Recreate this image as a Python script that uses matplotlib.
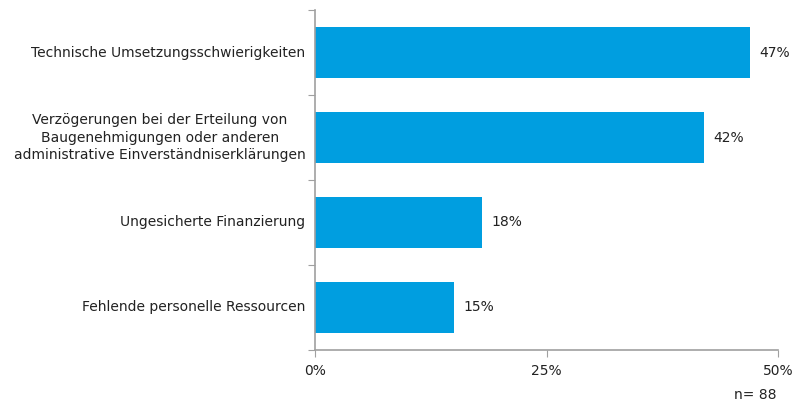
import matplotlib.pyplot as plt

# Hindernisse bei der Umsetzung (Anteil der Nennungen in %)
categories = [
    "Technische Umsetzungsschwierigkeiten",
    "Verzögerungen bei der Erteilung von\nBaugenehmigungen oder anderen\nadministrative Einverständniserklärungen",
    "Ungesicherte Finanzierung",
    "Fehlende personelle Ressourcen",
]
values = [47, 42, 18, 15]
xticks = [0, 25, 50]
n_label = "n= 88"

bar_color = "#009ee0"
axis_color = "#a0a0a0"
text_color = "#222222"
fs = 10

plt.rcParams["font.family"] = ["DejaVu Sans"]

fig = plt.figure(figsize=(7.95, 4.05), dpi=100)
ax = fig.add_axes([0.396, 0.136, 0.583, 0.839])

pos = list(range(len(categories)))
ax.barh(pos, values, height=0.6, color=bar_color)
ax.set_ylim(len(categories) - 0.5, -0.5)
ax.set_xlim(0, 50)

for p, v in zip(pos, values):
    ax.text(v + 1.0, p, f"{v}%", va="center", ha="left", fontsize=fs, color=text_color)

# y-Achse: Striche an den Kategoriegrenzen, Beschriftung in der Mitte
ax.set_yticks([p - 0.5 for p in pos] + [len(pos) - 0.5])
ax.set_yticklabels([])
ax.tick_params(axis="y", length=5, color=axis_color, direction="out")
for p, c in zip(pos, categories):
    ax.text(-1.0, p, c, va="center", ha="right", multialignment="center",
            fontsize=fs, color=text_color, linespacing=1.3)

ax.set_xticks(xticks)
ax.set_xticklabels([f"{t}%" for t in xticks], fontsize=fs, color=text_color)
ax.tick_params(axis="x", length=5, color=axis_color, direction="out", pad=5)

for side in ["top", "right"]:
    ax.spines[side].set_visible(False)
for side in ["left", "bottom"]:
    ax.spines[side].set_color(axis_color)
    ax.spines[side].set_linewidth(1.2)

fig.text(0.977, 0.008, n_label, ha="right", va="bottom", fontsize=fs, color=text_color)

fig.savefig("out.png", dpi=100)
